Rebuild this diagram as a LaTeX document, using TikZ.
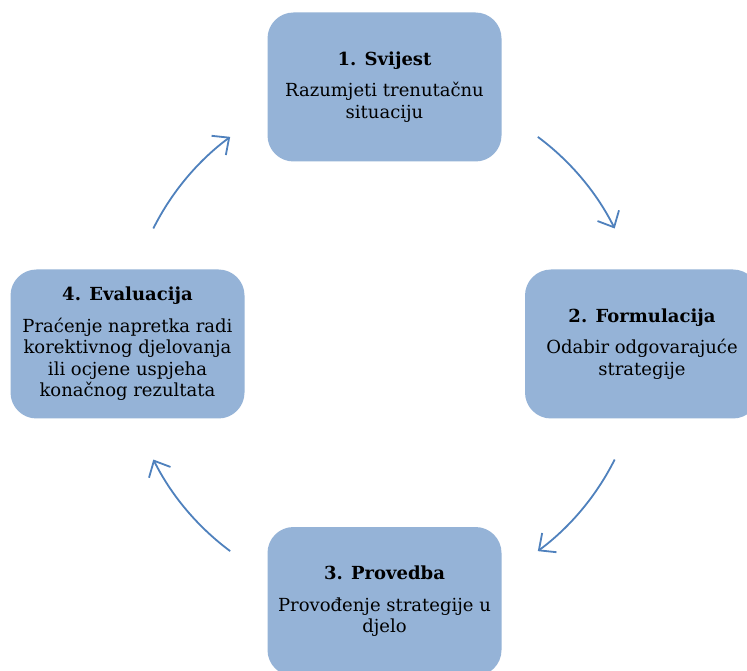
\documentclass[tikz,border=0pt]{standalone}
\usepackage{fontspec}
\setmainfont{DejaVu Serif}
\usetikzlibrary{arrows.meta}
\definecolor{boxblue}{HTML}{95B3D7}
\definecolor{arrowblue}{HTML}{4F81BD}
\tikzset{
  stagebox/.style={fill=boxblue, draw=none, rounded corners=26pt, minimum width=234pt, minimum height=149pt, align=center, inner sep=0pt, font=\fontsize{18}{21.5}\selectfont},
  cyclearrow/.style={draw=arrowblue, line width=1.8pt, -{Straight Barb[length=13pt,width=24pt,line width=1.8pt]}}
}
\newcommand{\ttl}[1]{{\bfseries #1}\\[10pt]}
\begin{document}
\begin{tikzpicture}[x=1pt,y=1pt]
\useasboundingbox (0,0) rectangle (747,670);
\clip (0,0) rectangle (747,670);
\fill[white] (0,0) rectangle (747,670);
\coordinate (c) at (384,326);
\node[stagebox] (s1) at (384.5,583) {\ttl{1. Svijest}Razumjeti trenutačnu\\situaciju};
\node[stagebox] (s2) at (642,326) {\ttl{2. Formulacija}Odabir odgovarajuće\\strategije};
\node[stagebox] (s3) at (384.5,68.5) {\ttl{3. Provedba}Provođenje strategije u\\djelo};
\node[stagebox] (s4) at (127.5,326) {\ttl{4. Evaluacija}Praćenje napretka radi\\korektivnog djelovanja\\ili ocjene uspjeha\\konačnog rezultata};
\draw[cyclearrow] ([shift={(53.4:258)}]c) arc[start angle=53.4, end angle=26.6, radius=258];
\draw[cyclearrow] ([shift={(-26.6:258)}]c) arc[start angle=-26.6, end angle=-53.4, radius=258];
\draw[cyclearrow] ([shift={(-126.6:258)}]c) arc[start angle=-126.6, end angle=-153.4, radius=258];
\draw[cyclearrow] ([shift={(153.4:258)}]c) arc[start angle=153.4, end angle=126.6, radius=258];
\end{tikzpicture}
\end{document}
